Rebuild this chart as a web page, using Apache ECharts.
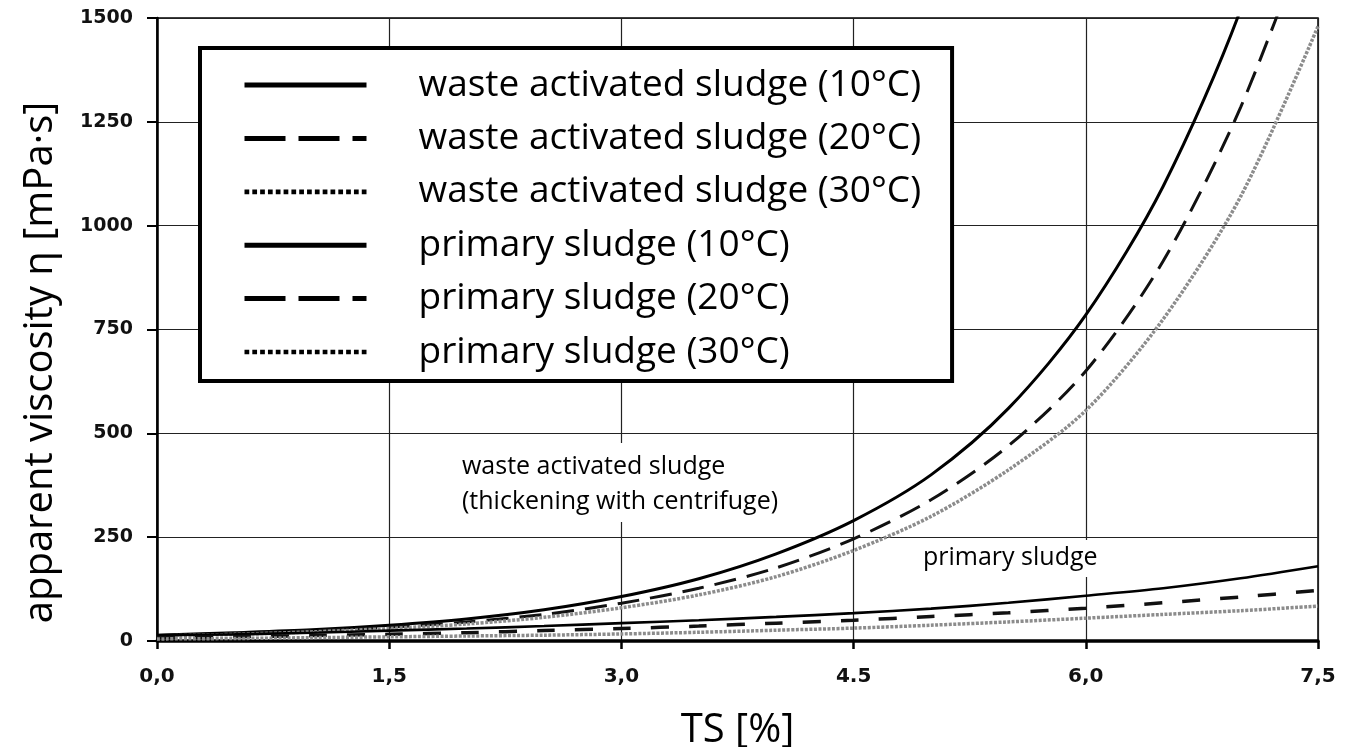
<!DOCTYPE html>
<html>
<head>
<meta charset="utf-8">
<script src="https://cdn.jsdelivr.net/npm/echarts@6/dist/echarts.min.js"></script>
<style>
html,body{margin:0;padding:0;background:#fff;}
#chart{width:1355px;height:747px;}
</style>
</head>
<body>
<div id="chart"></div>
<script>
// ---- data ----
var ts = [0, 0.5, 1.0, 1.5, 2.0, 2.5, 3.0, 3.5, 4.0, 4.5, 5.0, 5.5, 6.0, 6.5, 7.0, 7.5];
var was10 = [14, 20, 27, 38, 53, 75, 107, 150, 210, 290, 400, 560, 785, 1095, 1520, 2100];
var was20 = [13, 18, 25, 33, 46, 64, 91, 127, 176, 246, 340, 470, 650, 915, 1285, 1770];
var was30 = [12, 16, 22, 30, 41, 57, 80, 111, 155, 218, 300, 412, 555, 775, 1070, 1480];
var ps10 = [14, 16, 20, 25, 30, 36, 43, 50, 58, 67, 78, 92, 109, 127, 151, 180];
var ps20 = [8, 10, 13, 16, 20, 25, 30, 36, 43, 50, 59, 68, 79, 92, 106, 122];
var ps30 = [5, 6, 8, 10, 12, 14, 17, 21, 26, 31, 38, 46, 55, 64, 73, 84];
var seriesNames = [
  'waste activated sludge (10°C)',
  'waste activated sludge (20°C)',
  'waste activated sludge (30°C)',
  'primary sludge (10°C)',
  'primary sludge (20°C)',
  'primary sludge (30°C)'
];
var xTickLabels = ['0,0', '1,5', '3,0', '4.5', '6,0', '7,5'];
var yTickLabels = ['0', '250', '500', '750', '1000', '1250', '1500'];
var xAxisTitle = 'TS [%]';
var yAxisTitle = 'apparent viscosity η [mPa·s]';
var noteWas = 'waste activated sludge\n(thickening with centrifuge)';
var notePs = 'primary sludge';

// ---- styles ----
var seriesValues = [was10, was20, was30, ps10, ps20, ps30];
var lineStyles = [
  {color: '#000', width: 3, type: 'solid'},
  {color: '#111', width: 3, type: [22, 11]},
  {color: '#8c8c8c', width: 3.5, type: [3, 1.5]},
  {color: '#000', width: 2.6, type: 'solid'},
  {color: '#111', width: 3.5, type: [18, 20]},
  {color: '#8c8c8c', width: 3.5, type: [3, 1.5]}
];
var legendLineStyles = [
  {color: '#000', width: 5, type: 'solid'},
  {color: '#000', width: 5, type: [41, 13]},
  null,
  {color: '#000', width: 5, type: 'solid'},
  {color: '#000', width: 5, type: [41, 13]},
  null
];
// dotted legend sample drawn as a row of small squares
var dotPath = 'path://';
for (var k = 0; k < 16; k++) {
  dotPath += 'M' + (k * 7.6) + ',0h4.6v4.6h-4.6z';
}

var series = seriesValues.map(function (vals, i) {
  return {
    name: seriesNames[i],
    type: 'line',
    data: ts.map(function (x, j) { return [x, vals[j]]; }),
    smooth: 0.3,
    symbol: 'none',
    clip: true,
    itemStyle: {color: '#000'},
    lineStyle: lineStyles[i],
    z: 3
  };
});

var legendData = seriesNames.map(function (n, i) {
  if (legendLineStyles[i]) {
    return {name: n, lineStyle: legendLineStyles[i], itemStyle: {opacity: 0, borderWidth: 0}};
  }
  return {name: n, icon: dotPath, itemStyle: {opacity: 1, color: '#000', borderWidth: 0}};
});

var chart = echarts.init(document.getElementById('chart'));
chart.setOption({
  animation: false,
  backgroundColor: '#fff',
  grid: {
    left: 157, right: 37, top: 18, bottom: 106,
    outerBoundsMode: 'none',
    containLabel: false,
    show: true, borderColor: '#000', borderWidth: 1.5, backgroundColor: 'transparent'
  },
  legend: {
    orient: 'vertical',
    left: 200,
    top: 48,
    padding: [17, 31, 9, 42],
    itemWidth: 122,
    itemHeight: 14,
    itemGap: 13.4,
    symbolKeepAspect: true,
    selectedMode: false,
    backgroundColor: '#fff',
    borderColor: '#000',
    borderWidth: 4,
    itemStyle: {opacity: 0, borderWidth: 0},
    lineStyle: {color: '#000'},
    textStyle: {
      fontFamily: 'Open Sans',
      fontSize: 37,
      color: '#000',
      lineHeight: 40,
      padding: [0, 0, 0, 47]
    },
    data: legendData,
    z: 10
  },
  xAxis: {
    type: 'value',
    min: 0, max: 7.5, interval: 1.5,
    name: xAxisTitle,
    nameLocation: 'middle',
    nameGap: 70,
    nameTextStyle: {fontFamily: 'Open Sans', fontSize: 40, color: '#000'},
    axisLine: {show: true, onZero: false, lineStyle: {color: '#000', width: 3.5}},
    axisTick: {show: true, inside: false, length: 8, lineStyle: {color: '#000', width: 2.5}},
    axisLabel: {
      margin: 26,
      fontFamily: 'DejaVu Sans', fontWeight: 'bold', fontSize: 20, color: '#111',
      formatter: function (v) { return xTickLabels[Math.round(v / 1.5)]; }
    },
    splitLine: {show: true, lineStyle: {color: '#222', width: 1.2}}
  },
  yAxis: {
    type: 'value',
    min: 0, max: 1500, interval: 250,
    name: yAxisTitle,
    nameLocation: 'middle',
    nameRotate: 90,
    nameGap: 96,
    nameTextStyle: {fontFamily: 'Open Sans', fontSize: 40, color: '#000', padding: [0, 66, 0, 0]},
    axisLine: {show: true, lineStyle: {color: '#000', width: 2.5}},
    axisTick: {show: true, inside: false, length: 10, lineStyle: {color: '#000', width: 2}},
    axisLabel: {
      margin: 24,
      fontFamily: 'DejaVu Sans', fontWeight: 'bold', fontSize: 19, color: '#111',
      formatter: function (v) { return yTickLabels[Math.round(v / 250)]; }
    },
    splitLine: {show: true, lineStyle: {color: '#222', width: 1.2}}
  },
  graphic: [
    {
      type: 'text', x: 454, y: 443, z: 5,
      style: {
        text: noteWas, font: "25px 'Open Sans'", fill: '#000',
        lineHeight: 35, backgroundColor: '#fff', padding: [6, 8, 3, 8]
      }
    },
    {
      type: 'text', x: 917, y: 540, z: 5,
      style: {
        text: notePs, font: "25px 'Open Sans'", fill: '#000',
        lineHeight: 30, backgroundColor: '#fff', padding: [3, 6, 4, 6]
      }
    }
  ],
  series: series
});
</script>
</body>
</html>
